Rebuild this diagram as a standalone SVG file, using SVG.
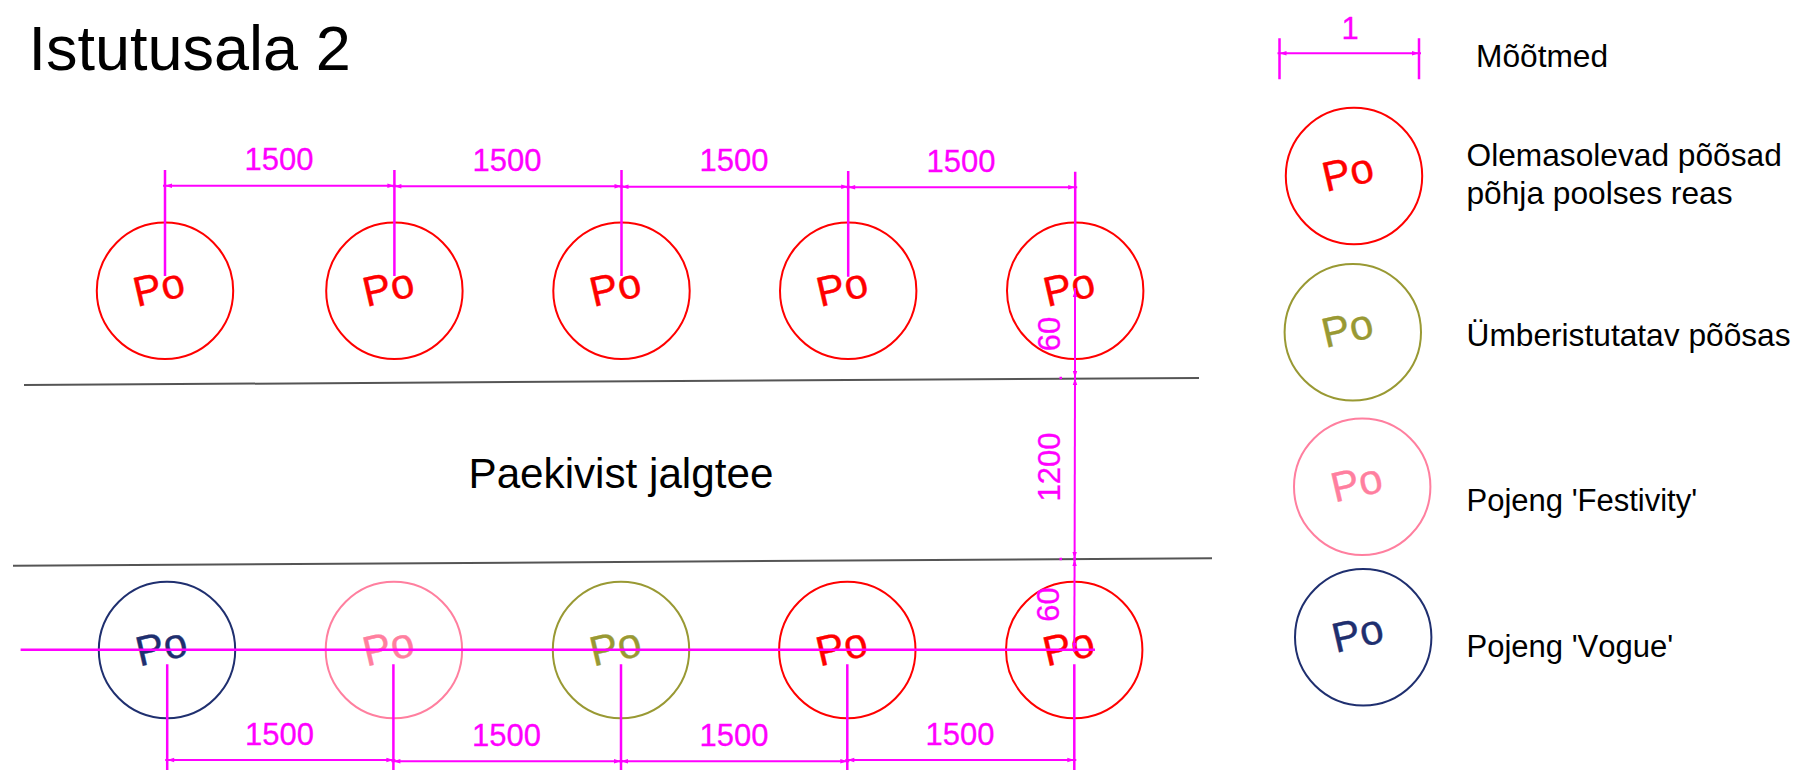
<svg xmlns="http://www.w3.org/2000/svg" width="1796" height="771" viewBox="0 0 1796 771">
<style>
text{font-family:"Liberation Sans",Arial,sans-serif}
.bush circle{fill:none;stroke-width:2}
.bush text{font-size:42px;stroke-width:.4}
.red circle{stroke:#ff0000}.red text{fill:#ff0000;stroke:#ff0000}
.olive circle{stroke:#999933}.olive text{fill:#999933;stroke:#999933}
.pink circle{stroke:#ff7f9f}.pink text{fill:#ff7f9f;stroke:#ff7f9f}
.navy circle{stroke:#1f2f6f}.navy text{fill:#1f2f6f;stroke:#1f2f6f}
.ext{stroke:#ff00ff;stroke-width:2.5;fill:none}
.dim{stroke:#ff00ff;stroke-width:2;fill:none;marker-start:url(#tick);marker-end:url(#tick)}
.dimt{fill:#ff00ff;font-size:31px;text-anchor:middle;stroke:#ff00ff;stroke-width:.3}
.road{stroke:#555555;stroke-width:2;fill:none}
.lab{fill:#000;font-size:31.7px}
.lab2{fill:#000;font-size:31px}
</style>
<defs>
<marker id="tick" markerUnits="userSpaceOnUse" markerWidth="12" markerHeight="6" refX="10" refY="3" orient="auto-start-reverse">
<path d="M1,.8 L8,3 L1,5.2z" fill="#ff00ff"/>
</marker>
</defs>
<rect width="1796" height="771" fill="#fff"/>
<text x="28.5" y="70" font-size="63" fill="#000">Istutusala 2</text>
<text x="468.5" y="488" font-size="42.2" fill="#000">Paekivist jalgtee</text>
<g id="path-edges">
<line class="road" x1="24" y1="385" x2="1199" y2="378"/>
<line class="road" x1="13" y1="565.7" x2="1212" y2="558.3"/>
</g>
<g id="top-row">
<g id="t1" class="bush red"><circle cx="165" cy="290.8" r="68.2"/><text transform="translate(137 307) rotate(-13)">Po</text></g>
<g id="t2" class="bush red"><circle cx="394.4" cy="290.8" r="68.2"/><text transform="translate(366.4 307) rotate(-13)">Po</text></g>
<g id="t3" class="bush red"><circle cx="621.5" cy="290.8" r="68.2"/><text transform="translate(593.5 307) rotate(-13)">Po</text></g>
<g id="t4" class="bush red"><circle cx="848.2" cy="290.8" r="68.2"/><text transform="translate(820.2 307) rotate(-13)">Po</text></g>
<g id="t5" class="bush red"><circle cx="1075.2" cy="290.8" r="68.2"/><text transform="translate(1047.2 307) rotate(-13)">Po</text></g>
</g>
<g id="bottom-row">
<g id="b1" class="bush navy"><circle cx="167" cy="650" r="68.2"/><text transform="translate(139.5 666.5) rotate(-13)">Po</text></g>
<g id="b2" class="bush pink"><circle cx="393.9" cy="650" r="68.2"/><text transform="translate(366.4 666.5) rotate(-13)">Po</text></g>
<g id="b3" class="bush olive"><circle cx="621" cy="650" r="68.2"/><text transform="translate(593.5 666.5) rotate(-13)">Po</text></g>
<g id="b4" class="bush red"><circle cx="847.3" cy="650" r="68.2"/><text transform="translate(819.8 666.5) rotate(-13)">Po</text></g>
<g id="b5" class="bush red"><circle cx="1074.2" cy="650" r="68.2"/><text transform="translate(1046.7 666.5) rotate(-13)">Po</text></g>
</g>
<g id="legend">
<g id="l1" class="bush red"><circle cx="1354" cy="176" r="68.2"/><text transform="translate(1326 192) rotate(-13)">Po</text></g>
<g id="l2" class="bush olive"><circle cx="1352.8" cy="332.2" r="68.2"/><text transform="translate(1325.5 348) rotate(-13)">Po</text></g>
<g id="l3" class="bush pink"><circle cx="1362.2" cy="486.8" r="68.2"/><text transform="translate(1334.7 502.6) rotate(-13)">Po</text></g>
<g id="l4" class="bush navy"><circle cx="1363.2" cy="637.2" r="68.2"/><text transform="translate(1335.7 653) rotate(-13)">Po</text></g>
<text class="lab" x="1476" y="67">Mõõtmed</text>
<text class="lab" x="1466.5" y="166">Olemasolevad põõsad</text>
<text class="lab" x="1466.5" y="204">põhja poolses reas</text>
<text class="lab" x="1466.5" y="345.5">Ümberistutatav põõsas</text>
<text class="lab2" x="1466.5" y="511">Pojeng 'Festivity'</text>
<text class="lab2" x="1466.5" y="657" style="font-kerning:none">Pojeng 'Vogue'</text>
</g>
<g id="connectors">
<path class="ext" d="M165 170V276M394.4 170V276M621.5 170V276M848.2 171V276.7M1075.2 171.7V276"/>
<path class="ext" d="M167.2 664.3V770M393.4 664.3V770M621 664.3V770M847.3 664.3V770M1074.3 664.3V770"/>
<path class="ext" d="M20.6 649.7H1095"/>
<path class="ext" d="M1279.5 38.3V79.3M1419 38.3V79.3"/>
<line class="dim" x1="163" y1="185.7" x2="396.4" y2="185.7"/>
<line class="dim" x1="392.4" y1="186.3" x2="623.5" y2="186.3"/>
<line class="dim" x1="619.5" y1="186.7" x2="850.2" y2="186.7"/>
<line class="dim" x1="846.2" y1="187.3" x2="1077.2" y2="187.3"/>
<line class="dim" x1="165.2" y1="760" x2="395.4" y2="760"/>
<line class="dim" x1="391.4" y1="761.3" x2="623" y2="761.3"/>
<line class="dim" x1="619" y1="761.3" x2="849.3" y2="761.3"/>
<line class="dim" x1="845.3" y1="760" x2="1076.3" y2="760"/>
<line class="dim" x1="1075" y1="288" x2="1075" y2="380"/>
<line class="dim" x1="1075" y1="376" x2="1074.6" y2="561"/>
<line class="dim" x1="1074.6" y1="557" x2="1074.3" y2="652"/>
<line class="dim" x1="1277.5" y1="53.3" x2="1421" y2="53.3"/>
<path class="ext" d="M1059.5 378H1062M1059.5 559H1062"/>
</g>
<g id="dimension-labels">
<text class="dimt" x="279" y="170">1500</text>
<text class="dimt" x="507" y="171">1500</text>
<text class="dimt" x="734" y="171">1500</text>
<text class="dimt" x="961" y="171.7">1500</text>
<text class="dimt" x="279.5" y="745">1500</text>
<text class="dimt" x="506.5" y="746">1500</text>
<text class="dimt" x="734" y="746">1500</text>
<text class="dimt" x="960" y="745">1500</text>
<text class="dimt" transform="translate(1059.5 334) rotate(-90)">60</text>
<text class="dimt" transform="translate(1059.5 467) rotate(-90)">1200</text>
<text class="dimt" transform="translate(1059 604.5) rotate(-90)">60</text>
<text class="dimt" x="1350" y="39">1</text>
</g>
</svg>
